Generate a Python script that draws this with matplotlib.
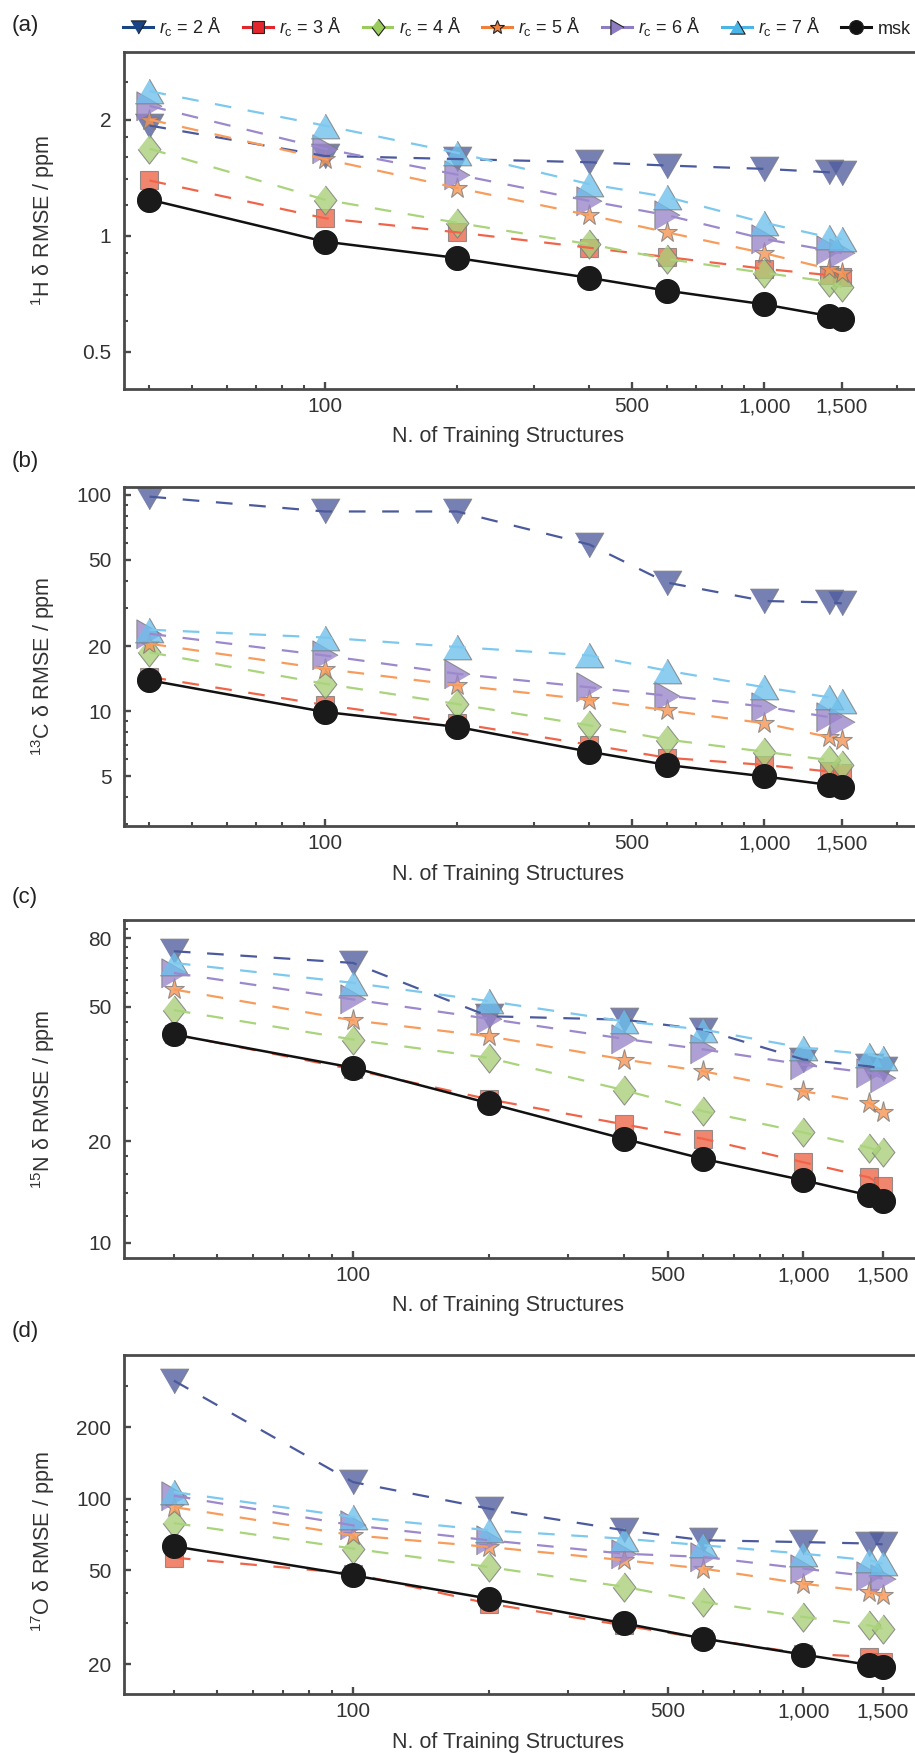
import numpy as np
import matplotlib.pyplot as plt
from matplotlib.lines import Line2D
from matplotlib.ticker import FixedLocator, NullFormatter, FixedFormatter

plt.rcParams['font.family'] = ['Liberation Sans', 'DejaVu Sans']
plt.rcParams['mathtext.fontset'] = 'custom'
plt.rcParams['mathtext.rm'] = 'Liberation Sans'
plt.rcParams['mathtext.it'] = 'Liberation Sans:italic'

# training set sizes (x axis)
n_train = [40, 100, 200, 400, 600, 1000, 1400, 1500]

# (a) 1H RMSE / ppm
h_rc2 = [1.93, 1.61, 1.58, 1.55, 1.52, 1.49, 1.46, 1.45]
h_rc3 = [1.39, 1.11, 1.02, 0.93, 0.88, 0.82, 0.79, 0.78]
h_rc4 = [1.68, 1.24, 1.08, 0.95, 0.87, 0.80, 0.76, 0.735]
h_rc5 = [2.00, 1.58, 1.33, 1.13, 1.02, 0.90, 0.82, 0.80]
h_rc6 = [2.17, 1.68, 1.44, 1.23, 1.13, 0.98, 0.915, 0.90]
h_rc7 = [2.37, 1.93, 1.64, 1.36, 1.26, 1.08, 0.99, 0.98]
h_msk = [1.24, 0.965, 0.875, 0.777, 0.72, 0.663, 0.619, 0.607]

# (b) 13C RMSE / ppm
c_rc2 = [98, 83.7, 83.7, 58.9, 39.3, 32.3, 31.8, 31.5]
c_rc3 = [14.4, 10.7, 8.8, 7.0, 6.1, 5.65, 5.27, 5.18]
c_rc4 = [18.7, 13.4, 10.8, 8.6, 7.4, 6.5, 5.95, 5.65]
c_rc5 = [20.5, 15.7, 13.2, 11.3, 10.1, 8.8, 7.6, 7.36]
c_rc6 = [22.8, 18.1, 14.9, 12.9, 11.8, 10.5, 9.4, 8.9]
c_rc7 = [23.8, 21.9, 19.8, 18.1, 15.4, 12.9, 11.6, 11.2]
c_msk = [13.9, 9.93, 8.47, 6.5, 5.65, 5.0, 4.57, 4.46]

# (c) 15N RMSE / ppm
n_rc2 = [73.1, 67.5, 46.9, 45.8, 42.8, 34.9, 33.3, 32.8]
n_rc3 = [41.5, 32.6, 26.6, 22.4, 20.3, 17.3, 15.6, 14.7]
n_rc4 = [48.9, 40.0, 35.3, 28.3, 24.5, 21.2, 19.1, 18.55]
n_rc5 = [56.3, 45.6, 40.9, 34.9, 32.2, 28.1, 26.0, 24.4]
n_rc6 = [63.0, 52.6, 46.1, 40.2, 37.4, 33.7, 31.9, 30.8]
n_rc7 = [67.5, 58.9, 52.0, 45.3, 42.8, 37.8, 36.1, 35.3]
n_msk = [41.4, 33.0, 25.9, 20.3, 17.7, 15.3, 13.8, 13.3]

# (d) 17O RMSE / ppm
o_rc2 = [315, 117.5, 90.8, 73.6, 66.8, 65.6, 64.7, 64.2]
o_rc3 = [56.4, 48.3, 36.1, 29.2, 25.7, 22.2, 21.5, 20.5]
o_rc4 = [78.9, 61.6, 51.5, 42.5, 36.7, 31.7, 29.2, 28.3]
o_rc5 = [92.2, 70.1, 62.6, 55.0, 50.7, 43.8, 40.5, 39.2]
o_rc6 = [103, 77.2, 66.8, 58.6, 56.8, 50.7, 47.1, 46.0]
o_rc7 = [106.7, 83.7, 73.6, 67.8, 63.6, 58.6, 55.0, 53.3]
o_msk = [63.0, 47.5, 37.9, 29.8, 25.7, 22.0, 19.9, 19.5]

series_labels = [r'$r_\mathrm{c}$ = 2 Å', r'$r_\mathrm{c}$ = 3 Å', r'$r_\mathrm{c}$ = 4 Å',
                 r'$r_\mathrm{c}$ = 5 Å', r'$r_\mathrm{c}$ = 6 Å', r'$r_\mathrm{c}$ = 7 Å', 'msk']

# marker shapes (equilateral triangles etc.)
tri_down = [(-1, 0.866), (1, 0.866), (0, -0.866)]
tri_up = [(-1, -0.866), (1, -0.866), (0, 0.866)]
tri_right = [(-0.866, -1), (-0.866, 1), (0.866, 0)]
diamond = [(0, 1), (0.78, 0), (0, -1), (-0.78, 0)]

markers = [tri_down, 's', diamond, '*', tri_right, tri_up, 'o']
msizes = [20.5, 13.5, 21, 15.5, 21, 20.5, 17]
legend_ms = [11, 8, 12, 10, 11, 11, 10]
solid_colors = ['#1b4484', '#e3262b', '#9bcb5c', '#f07f3c', '#8e7cc3', '#4bb4e6', '#111111']
face_colors = ['#4f5c9e', '#ee6446', '#a8cf78', '#f79350', '#9884ca', '#6dbfeb', '#1a1a1a']
line_colors = ['#4b5a9c', '#f0654a', '#a9d47b', '#f89c5c', '#9c88cc', '#7cc8ee', '#111111']

fig = plt.figure(figsize=(9.15, 17.53), dpi=100)

panels = [
    dict(tag='(a)', data=[h_rc2, h_rc3, h_rc4, h_rc5, h_rc6, h_rc7, h_msk],
         ylabel=r'$^1$H δ RMSE / ppm', rect=[0.1355, 0.7781, 0.8645, 0.1924],
         ylim=(0.4, 3.0), xlim=(35, 2200),
         yticks=[0.5, 1, 2], yticklabels=['0.5', '1', '2'],
         yminor=[0.6, 0.7, 0.8, 0.9, 1.2, 1.4, 1.6, 1.8, 2.5], tag_y=25, ylab_y=0.5),
    dict(tag='(b)', data=[c_rc2, c_rc3, c_rc4, c_rc5, c_rc6, c_rc7, c_msk],
         ylabel=r'$^{13}$C δ RMSE / ppm', rect=[0.1355, 0.5288, 0.8645, 0.1936],
         ylim=(2.95, 109), xlim=(35, 2200),
         yticks=[5, 10, 20, 50, 100], yticklabels=['5', '10', '20', '50', '100'],
         yminor=[3, 4, 6, 7, 8, 9, 30, 40, 60, 70, 80, 90], tag_y=461, ylab_y=0.47),
    dict(tag='(c)', data=[n_rc2, n_rc3, n_rc4, n_rc5, n_rc6, n_rc7, n_msk],
         ylabel=r'$^{15}$N δ RMSE / ppm', rect=[0.1355, 0.2824, 0.8645, 0.1928],
         ylim=(9.0, 90.5), xlim=(31, 1770),
         yticks=[10, 20, 50, 80], yticklabels=['10', '20', '50', '80'],
         yminor=[12, 14, 16, 18, 25, 30, 35, 40, 45, 55, 60, 65, 70, 75, 85, 90], tag_y=897, ylab_y=0.47),
    dict(tag='(d)', data=[o_rc2, o_rc3, o_rc4, o_rc5, o_rc6, o_rc7, o_msk],
         ylabel=r'$^{17}$O δ RMSE / ppm', rect=[0.1355, 0.03366, 0.8645, 0.1934],
         ylim=(15, 404), xlim=(31, 1770),
         yticks=[20, 50, 100, 200], yticklabels=['20', '50', '100', '200'],
         yminor=[30, 40, 60, 70, 80, 90, 300], tag_y=1331, ylab_y=0.45),
]

spine_col = '#4a4a4a'
text_col = '#333333'

for p in panels:
    ax = fig.add_axes(p['rect'])
    for i, vals in enumerate(p['data']):
        ax.plot(n_train, vals, linestyle='none', marker=markers[i], ms=msizes[i],
                mfc=face_colors[i], mec='#7a7a7a', mew=0.8, alpha=0.78, zorder=2 + i * 0.01)
        if i < 6:
            ax.plot(n_train, vals, color=line_colors[i], lw=1.6, dashes=(7.5, 7.5), zorder=3)
        else:
            ax.plot(n_train, vals, color=line_colors[i], lw=1.8, zorder=3)
    # black circles over their own line
    ax.plot(n_train, p['data'][6], linestyle='none', marker='o', ms=msizes[6],
            mfc=face_colors[6], mec=face_colors[6], zorder=4)

    ax.set_xscale('log')
    ax.set_yscale('log')
    ax.set_xlim(*p['xlim'])
    ax.set_ylim(*p['ylim'])

    ax.xaxis.set_major_locator(FixedLocator([100, 500, 1000, 1500]))
    ax.xaxis.set_major_formatter(FixedFormatter(['100', '500', '1,000', '1,500']))
    ax.xaxis.set_minor_locator(FixedLocator([40, 50, 60, 70, 80, 90, 200, 300, 400,
                                             600, 700, 800, 900, 2000]))
    ax.xaxis.set_minor_formatter(NullFormatter())
    ax.yaxis.set_major_locator(FixedLocator(p['yticks']))
    ax.yaxis.set_major_formatter(FixedFormatter(p['yticklabels']))
    ax.yaxis.set_minor_locator(FixedLocator(p['yminor']))
    ax.yaxis.set_minor_formatter(NullFormatter())

    ax.tick_params(which='both', direction='in', colors=spine_col, labelcolor=text_col,
                   labelsize=15, top=False, right=False)
    ax.tick_params(which='major', length=5, width=1.7)
    ax.tick_params(which='minor', length=2.6, width=1.5)
    ax.tick_params(axis='x', which='major', pad=6)
    ax.tick_params(axis='y', which='major', pad=9)

    for side in ['left', 'bottom', 'top']:
        ax.spines[side].set_color(spine_col)
        ax.spines[side].set_linewidth(2.0)
    ax.spines['right'].set_visible(False)

    ax.set_xlabel('N. of Training Structures', fontsize=15.5, color=text_col, va='center')
    ax.xaxis.set_label_coords(0.486, -48 / 338)
    ax.set_ylabel(p['ylabel'], fontsize=15.5, color=text_col, va='center')
    ax.yaxis.set_label_coords(-81 / 791, p['ylab_y'])

    fig.text(25 / 915, 1 - p['tag_y'] / 1753, p['tag'], fontsize=16, color='#222222',
             ha='center', va='center')

handles = []
for i in range(7):
    handles.append(Line2D([], [], color=solid_colors[i], lw=2.2, marker=markers[i],
                          ms=legend_ms[i], mfc=solid_colors[i], mec='#222222', mew=0.8))
fig.legend(handles, series_labels, loc='center', bbox_to_anchor=(517 / 915, 1 - 27 / 1753),
           ncol=7, frameon=False, fontsize=13, handlelength=1.65, handletextpad=0.35,
           columnspacing=1.18, borderpad=0, labelcolor='#222222')

fig.savefig('out.png', dpi=100)
